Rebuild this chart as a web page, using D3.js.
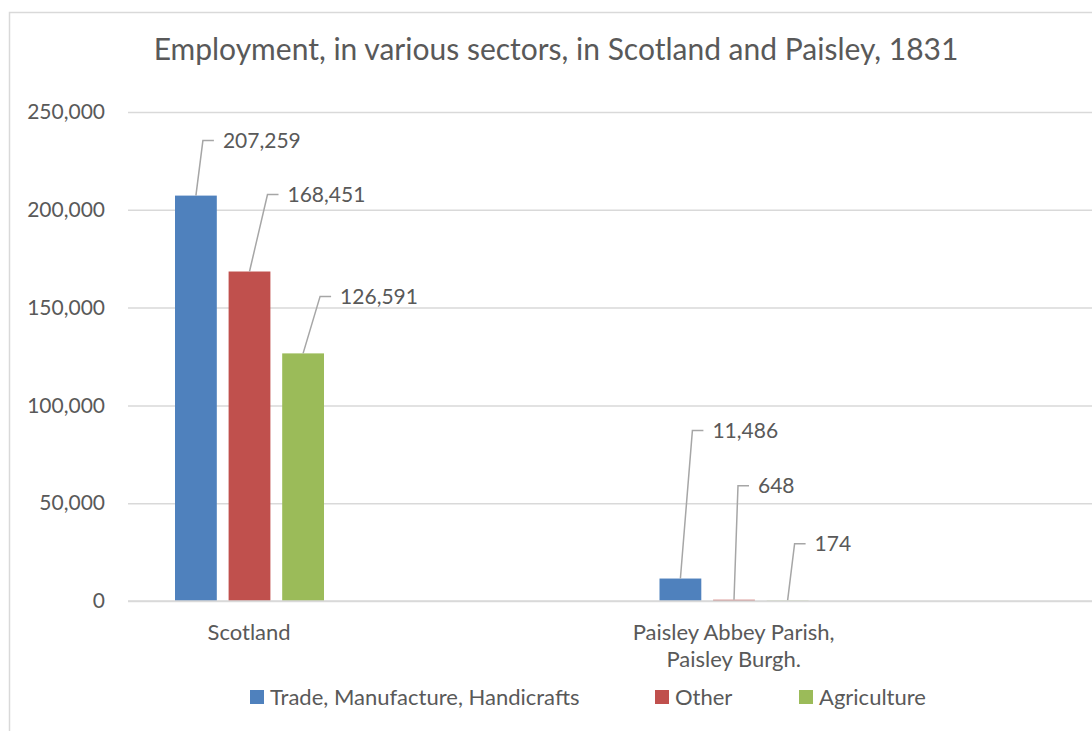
<!DOCTYPE html>
<html>
<head>
<meta charset="utf-8">
<script src="https://cdn.jsdelivr.net/npm/d3@7"></script>
<style>
  body { margin: 0; background: #fff; }
  text { font-family: Lato, "Open Sans", sans-serif; fill: #595959; }
</style>
</head>
<body>
<svg id="chart" width="1092" height="731"></svg>
<script>
// categories (the blank ones are empty slots in the original sheet)
const categories = ["Scotland", "", "Paisley Abbey Parish,|Paisley Burgh.", " "];
const seriesNames = ["Trade, Manufacture, Handicrafts", "Other", "Agriculture"];
const seriesColors = ["#4f81bd", "#c0504d", "#9bbb59"];

const trade = [207259, null, 11486, null];
const other = [168451, null, 648, null];
const agriculture = [126591, null, 174, null];

const yTicks = [0, 50000, 100000, 150000, 200000, 250000];

// where each data label was dragged to, relative to its bar top (px)
const labelOffsets = [
  [[7, -55], null, [12, -148], null],
  [[18, -77], null, [4, -114], null],
  [[17, -57], null, [7, -57], null]
];

const width = 1092, height = 731;
const margin = { top: 112, right: -5, bottom: 130, left: 128 };

const svg = d3.select("#chart");

// chart frame (right and bottom edges fall outside the picture)
svg.append("rect")
  .attr("x", 9.5)
  .attr("y", 12.5)
  .attr("width", width + 20)
  .attr("height", height + 20)
  .attr("fill", "#fff")
  .attr("stroke", "#d9d9d9")
  .attr("stroke-width", 1.5);

svg.append("text")
  .attr("x", 556)
  .attr("y", 60)
  .attr("text-anchor", "middle")
  .attr("font-size", 30)
  .text("Employment, in various sectors, in Scotland and Paisley, 1831");

const x0 = d3.scaleBand()
  .domain(categories)
  .range([margin.left, width - margin.right])
  .padding(0);

const x1 = d3.scaleBand()
  .domain(seriesNames)
  .range([47, 47 + 149])
  .paddingInner(0.22)
  .paddingOuter(0);

const y = d3.scaleLinear()
  .domain([0, 250000])
  .range([height - margin.bottom, margin.top]);

const fmt = d3.format(",");

// gridlines + y labels
const yAxis = svg.append("g")
  .attr("transform", `translate(${margin.left},0)`)
  .call(d3.axisLeft(y).tickValues(yTicks).tickFormat(fmt).tickSize(-(width - margin.left)).tickPadding(23));
yAxis.select(".domain").remove();
yAxis.selectAll(".tick line").attr("stroke", "#d9d9d9").attr("stroke-width", 1.5);
yAxis.selectAll(".tick text")
  .attr("font-size", 21)
  .attr("fill", "#595959")
  .attr("font-family", "Lato, 'Open Sans', sans-serif");

const allSeries = [trade, other, agriculture];

const groups = svg.append("g").selectAll("g")
  .data(allSeries)
  .join("g")
  .attr("fill", (d, i) => seriesColors[i]);

groups.selectAll("rect")
  .data((vals, si) => vals.map((v, ci) => ({ v, ci, si })).filter(d => d.v != null))
  .join("rect")
  .attr("x", d => x0(categories[d.ci]) + x1(seriesNames[d.si]))
  .attr("y", d => y(d.v))
  .attr("width", x1.bandwidth())
  .attr("height", d => y(0) - y(d.v));

// data labels with leader lines
const labelData = [];
allSeries.forEach((vals, si) => vals.forEach((v, ci) => {
  if (v == null) return;
  const bx = x0(categories[ci]) + x1(seriesNames[si]) + x1.bandwidth() / 2;
  const by = y(v);
  const off = labelOffsets[si][ci];
  labelData.push({ v, bx, by, ex: bx + off[0], ey: by + off[1] });
}));

const labels = svg.append("g");
labels.selectAll("path")
  .data(labelData)
  .join("path")
  .attr("d", d => `M${d.bx},${d.by}L${d.ex},${d.ey}L${d.ex + 11},${d.ey}`)
  .attr("fill", "none")
  .attr("stroke", "#a6a6a6")
  .attr("stroke-width", 1.5);
labels.selectAll("text")
  .data(labelData)
  .join("text")
  .attr("x", d => d.ex + 20)
  .attr("y", d => d.ey)
  .attr("dy", "0.35em")
  .attr("font-size", 21)
  .attr("fill", "#404040")
  .text(d => fmt(d.v));

// x axis line
svg.append("line")
  .attr("x1", margin.left)
  .attr("x2", width)
  .attr("y1", y(0))
  .attr("y2", y(0))
  .attr("stroke", "#d9d9d9")
  .attr("stroke-width", 1.5);

// category labels
const catLabels = svg.append("g").selectAll("text")
  .data(categories.filter(c => c.trim() !== ""))
  .join("text")
  .attr("x", d => x0(d) + x0.bandwidth() / 2)
  .attr("y", 640)
  .attr("text-anchor", "middle")
  .attr("font-size", 22);
catLabels.selectAll("tspan")
  .data(d => d.split("|"))
  .join("tspan")
  .attr("x", function () { return d3.select(this.parentNode).attr("x"); })
  .attr("dy", (d, i) => i === 0 ? 0 : 27)
  .text(d => d);

// legend
const legendX = [250, 655, 799];
const legend = svg.append("g").selectAll("g")
  .data(seriesNames)
  .join("g")
  .attr("transform", (d, i) => `translate(${legendX[i]},690)`);
legend.append("rect")
  .attr("width", 14)
  .attr("height", 14)
  .attr("fill", (d, i) => seriesColors[i]);
legend.append("text")
  .attr("x", 20)
  .attr("y", 7)
  .attr("dy", "0.35em")
  .attr("font-size", 22)
  .text(d => d);
</script>
</body>
</html>
